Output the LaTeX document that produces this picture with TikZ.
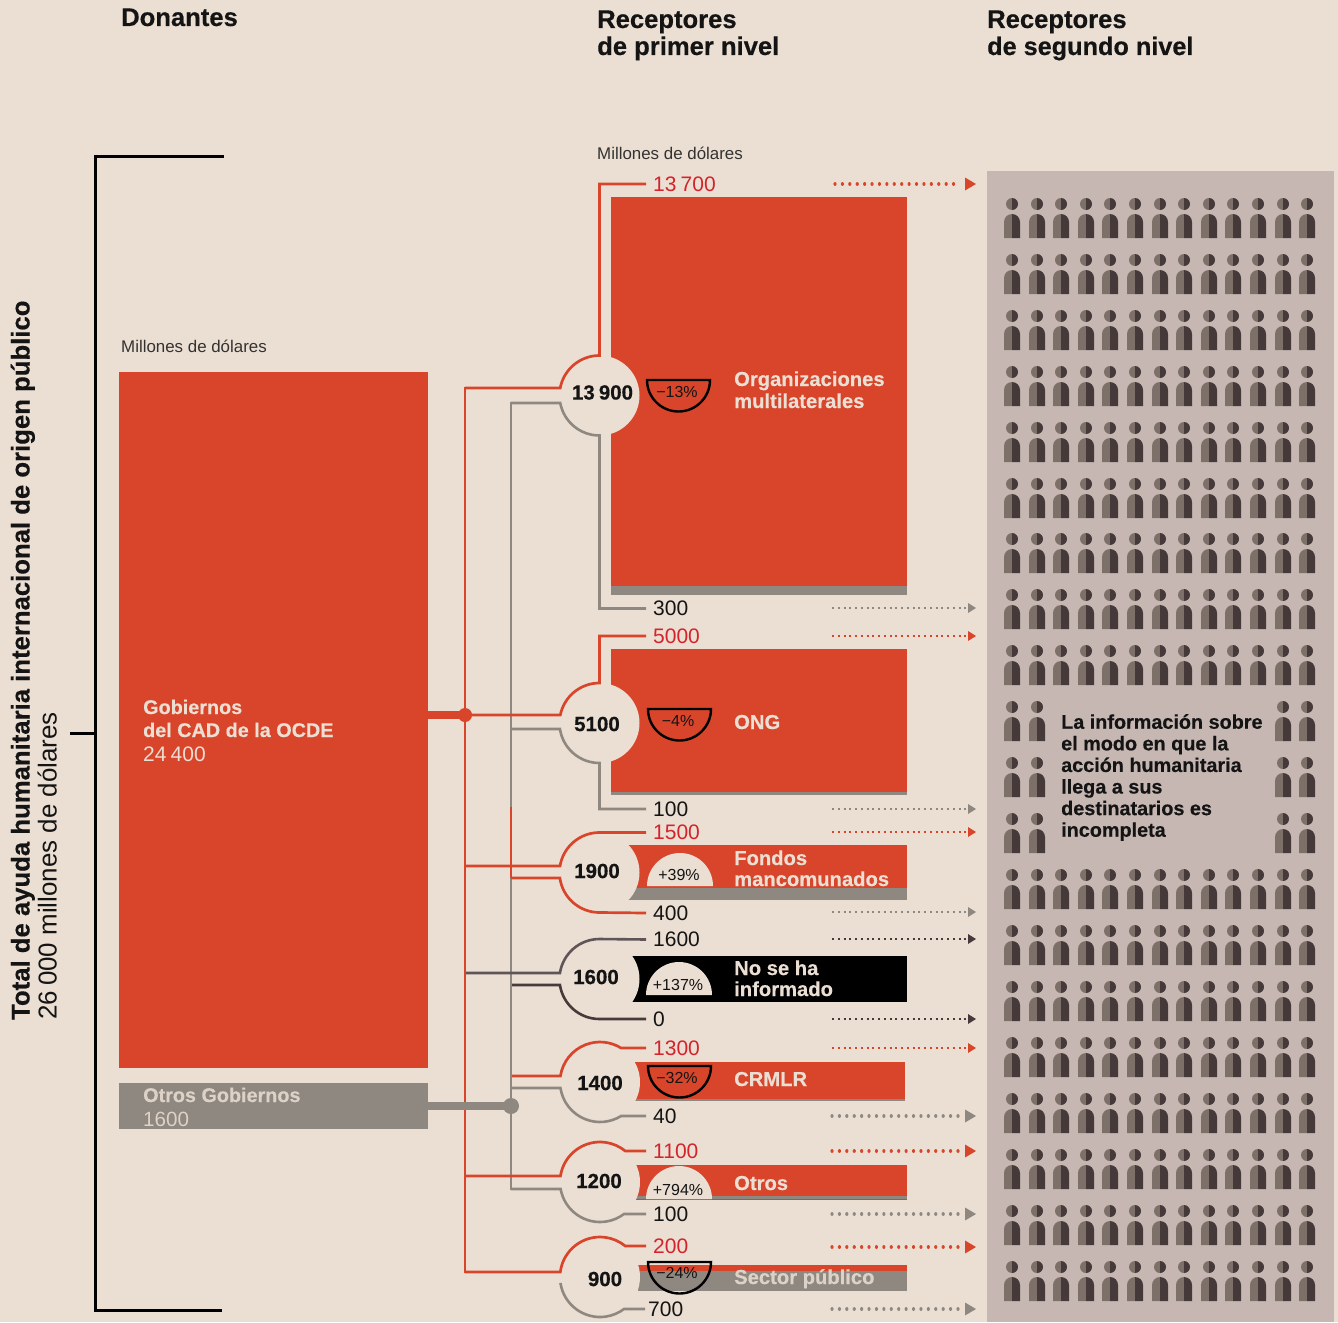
\documentclass[tikz,border=0pt]{standalone}
\usepackage{fontspec}
\setmainfont{Liberation Sans}[BoldFeatures={FakeBold=0.4}]
\usetikzlibrary{calc}
\definecolor{bg}{HTML}{EBDFD3}
\definecolor{panel}{HTML}{C6B7B2}
\definecolor{rojo}{HTML}{D8452B}
\definecolor{gris}{HTML}{8F8880}
\definecolor{rojotxt}{HTML}{D4232B}
\definecolor{tinta}{HTML}{141414}
\definecolor{osc}{HTML}{463A3A}
\definecolor{osctop}{HTML}{5F5457}
\definecolor{perL}{HTML}{7D7069}
\definecolor{perR}{HTML}{453A39}
\newcommand{\fs}[1]{\fontsize{#1}{#1}\selectfont}
\tikzset{
  x=1pt,y=-1pt,
  txtb/.style={inner sep=0pt,anchor=base west,text=tinta},
  headtxt/.style={txtb,font=\fs{25.6}\bfseries,align=left},
  unittxt/.style={txtb,font=\fs{16.9},text=tinta!85!bg},
  valn/.style={anchor=west,inner ysep=0pt,inner xsep=7pt,text height=14pt,text depth=0pt,font=\fs{21},text=tinta},
  valr/.style={valn,text=rojotxt},
  hubc/.style={circle,minimum size=80pt,inner sep=0pt,fill=bg},
  hubtxt/.style={inner sep=0pt,font=\fs{20.5}\bfseries,text=tinta},
  etiq/.style={txtb,font=\fs{20.2}\bfseries,text=bg},
  pcttxt/.style={inner sep=0pt,font=\fs{16},text=tinta},
  lr/.style={draw=rojo,line width=2.7pt},
  lg/.style={draw=gris,line width=2.6pt},
  ltop/.style={draw=osctop,line width=2.6pt},
  lbot/.style={draw=osc,line width=2.6pt},
  badgeb/.style={draw=black,line width=2.4pt},
  dotr/.style={draw=rojo,line width=2pt,dash pattern=on 2pt off 3.75pt},
  dotg/.style={draw=gris,line width=2pt,dash pattern=on 2pt off 3.75pt},
  dotk/.style={draw=osc,line width=2pt,dash pattern=on 2pt off 3.75pt},
  wider/.style={line width=3.2pt,line cap=round,dash pattern=on 0.01pt off 7.4pt},
}
% #1 style, #2 start, #3 hub, #4 start angle, #5 end angle, #6 path op, #7 label
\newcommand{\conn}[7]{\draw[#1] (#2) -- ($(#3)+(#4:40)$) arc (#4:#5:40) #6 (#7.west);}
% small tip: #1 dot style, #2 colour, #3 y
\newcommand{\flecha}[3]{\draw[#1] (832,#3) -- (967,#3);\fill[#2] (968,#3-5) -- (976,#3) -- (968,#3+5) -- cycle;}
% large tip: #1 colour, #2 y, #3 start x
\newcommand{\flechag}[3]{\draw[draw=#1,wider] (#3,#2) -- (958,#2);\fill[#1] (965,#2-6.5) -- (976,#2) -- (965,#2+6.5) -- cycle;}
\newcommand{\persona}[2]{%
  \fill[perL] (#1,#2-6) arc (270:90:6) -- cycle;
  \fill[perR] (#1,#2-6) arc (270:450:6) -- cycle;
  \fill[perL] (#1-8,#2+34) -- (#1-8,#2+18) arc (180:270:8) -- (#1,#2+34) -- cycle;
  \fill[perR] (#1,#2+34) -- (#1,#2+10) arc (270:360:8) -- (#1+8,#2+34) -- cycle;}
\begin{document}
\begin{tikzpicture}
\useasboundingbox (0,0) rectangle (1338,1322);
\fill[bg] (0,0) rectangle (1338,1322);
% panel and people
\fill[panel] (987,171) rectangle (1334,1322);
\foreach \y in {204,260,316,372,428,484,539,595,651,875,931,987,1043,1099,1155,1211,1267}
  \foreach \x in {1012,1037,1061,1086,1110,1135,1160,1184,1209,1233,1258,1283,1307}
    {\persona{\x}{\y}}
\foreach \y in {707,763,819}
  \foreach \x in {1012,1037,1283,1307}
    {\persona{\x}{\y}}
\node[inner sep=0pt,anchor=north west,align=left,text=tinta,font=\fontsize{19.8}{21.6}\selectfont\bfseries] (nota) at (1061,714)
  {La información sobre\\el modo en que la\\acción humanitaria\\llega a sus\\destinatarios es\\incompleta};
% headings
\node[headtxt] (hA) at (121,26) {Donantes};
\node[headtxt] (hB) at (597,28) {Receptores};
\node[headtxt] (hB2) at (597,55) {de primer nivel};
\node[headtxt] (hC) at (987,28) {Receptores};
\node[headtxt,font=\fs{25.25}\bfseries] (hC2) at (987,55) {de segundo nivel};
\node[unittxt] (uA) at (121,352) {Millones de dólares};
\node[unittxt] (uB) at (597,159) {Millones de dólares};
% bracket
\draw[black,line width=3pt] (224,156) -- (95,156) -- (95,1310) -- (222,1310);
\draw[black,line width=3pt] (70,733) -- (95,733);
\node[inner sep=0pt,rotate=90,anchor=base west,font=\fs{25.7}\bfseries,text=tinta] (tot) at (29.5,1020) {Total de ayuda humanitaria internacional de origen público};
\node[inner sep=0pt,rotate=90,anchor=base west,font=\fs{25.9},text=tinta] (tot2) at (56.5,1020) {26\hspace{0.2em}000 millones de dólares};
% donors
\fill[rojo] (119,372) rectangle (428,1068);
\fill[gris] (119,1083) rectangle (428,1129);
% recipient blocks
\fill[rojo] (611,197) rectangle (907,586);
\fill[gris] (611,586) rectangle (907,595);
\fill[rojo] (611,649) rectangle (907,792);
\fill[gris] (611,792) rectangle (907,795);
\fill[rojo] (620,845) rectangle (907,888);
\fill[gris] (620,888) rectangle (907,900);
\fill[black] (620,956) rectangle (907,1002);
\fill[rojo] (620,1062) rectangle (905,1099);
\fill[gris] (620,1099) rectangle (905,1101);
\fill[rojo] (620,1165) rectangle (907,1196);
\fill[gris] (620,1196) rectangle (907,1199);
\fill[rojo] (620,1199) rectangle (907,1200);
\fill[rojo] (638,1265) rectangle (907,1271);
\fill[gris] (638,1271) rectangle (907,1291);
% hubs
\node[hubc] (cA) at (599.5,395.5) {};
\node[hubc] (cB) at (599.5,723) {};
\node[hubc] (cC) at (599.5,872.5) {};
\node[hubc] (cD) at (599.5,979) {};
\node[hubc] (cE) at (600,1082) {};
\node[hubc] (cF) at (600,1182) {};
\node[hubc] (cG) at (600,1277) {};
\node[hubtxt] (tA) at (602.5,392.5) {13\hspace{0.2em}900};
\node[hubtxt] (tB) at (597,724) {5100};
\node[hubtxt] (tC) at (597,871) {1900};
\node[hubtxt] (tD) at (596,977) {1600};
\node[hubtxt] (tE) at (600,1083) {1400};
\node[hubtxt] (tF) at (599,1181) {1200};
\node[hubtxt] (tG) at (605,1279) {900};
% value labels
\node[valr] (vA) at (646,184) {13\hspace{0.2em}700};
\node[valn]  (wA) at (646,608.5) {300};
\node[valr] (vB) at (646,636) {5000};
\node[valn]  (wB) at (646,809) {100};
\node[valr] (vC) at (646,832.5) {1500};
\node[valn]  (wC) at (646,913) {400};
\node[valn]  (vD) at (646,939.5) {1600};
\node[valn]  (wD) at (646,1019) {0};
\node[valr] (vE) at (646,1048) {1300};
\node[valn]  (wE) at (646,1116) {40};
\node[valr] (vF) at (646,1151) {1100};
\node[valn]  (wF) at (646,1214) {100};
\node[valr] (vG) at (646,1246) {200};
\node[valn,inner xsep=3pt]  (wG) at (645,1309) {700};
% bus coordinates
\coordinate (rA) at (465,388);
\coordinate (rB) at (465,715);
\coordinate (rC) at (465,866);
\coordinate (rD) at (466,973);
\coordinate (rF) at (465,1176);
\coordinate (rG) at (465,1272);
\coordinate (gA) at (511,403);
\coordinate (gB) at (511,729);
\coordinate (rS) at (511,807);
\coordinate (rC2) at (511,878);
\coordinate (dD) at (512,985);
\coordinate (rE) at (512,1076);
\coordinate (gE) at (511,1088);
\coordinate (gF) at (511,1189);
\coordinate (dR) at (465,715);
\coordinate (dG) at (511,1106);
\coordinate (oR) at (428,715);
\coordinate (oG) at (428,1106);
\coordinate (gGs) at ($(cG)+(171.4:40)$);
% buses
\draw[lg,line cap=rect] (gA) -- (gF);
\draw[lr] (rS) -- (rC2);
\draw[lr,line cap=rect] (rA) -- (rG);
\draw[rojo,line width=8pt] (oR) -- (dR);
\fill[rojo] (dR) circle (7);
\draw[gris,line width=8pt] (oG) -- (dG);
\fill[gris] (dG) circle (8);
% connectors
\conn{lr}{rA}{cA}{190.8}{270}{|-}{vA}
\conn{lg}{gA}{cA}{169.2}{90}{|-}{wA}
\conn{lr}{rB}{cB}{191.5}{270}{|-}{vB}
\conn{lg}{gB}{cB}{171.4}{90}{|-}{wB}
\conn{lr}{rC}{cC}{189.4}{270}{--}{vC}
\conn{lr}{rC2}{cC}{172.1}{90}{--}{wC}
\conn{ltop}{rD}{cD}{188.6}{270}{--}{vD}
\conn{lbot}{dD}{cD}{171.4}{90}{--}{wD}
\conn{lr}{rE}{cE}{188.6}{301.8}{--}{vE}
\conn{lg}{gE}{cE}{171.4}{58.2}{--}{wE}
\conn{lr}{rF}{cF}{188.6}{309.2}{--}{vF}
\conn{lg}{gF}{cF}{170}{53.1}{--}{wF}
\conn{lr}{rG}{cG}{187.2}{309.2}{--}{vG}
\conn{lg}{gGs}{cG}{171.4}{53.1}{--}{wG}
% dotted arrows
\flechag{rojo}{184}{835}
\flecha{dotg}{gris}{608}
\flecha{dotr}{rojo}{636}
\flecha{dotg}{gris}{809}
\flecha{dotr}{rojo}{832}
\flecha{dotg}{gris}{912}
\flecha{dotk}{osc}{939}
\flecha{dotk}{osc}{1019}
\flecha{dotr}{rojo}{1048}
\flechag{gris}{1116}{832}
\flechag{rojo}{1151}{832}
\flechag{gris}{1214}{832}
\flechag{rojo}{1247}{832}
\flechag{gris}{1309}{832}
% badges
\draw[badgeb] (647,380) arc (180:0:31.5) -- cycle;
\draw[badgeb] (648,709) arc (180:0:31.5) -- cycle;
\fill[bg] (647,886) arc (180:360:33) -- cycle;
\fill[bg] (646,995) arc (180:360:33) -- cycle;
\draw[badgeb] (648,1066) arc (180:0:31.5) -- cycle;
\fill[bg] (646,1199) arc (180:360:33) -- cycle;
\draw[badgeb] (648,1262) arc (180:0:31.5) -- cycle;
\node[pcttxt] (pA) at (677,392) {−13\%};
\node[pcttxt] (pB) at (678,721) {−4\%};
\node[pcttxt] (pC) at (679,875) {+39\%};
\node[pcttxt] (pD) at (678,985) {+137\%};
\node[pcttxt] (pE) at (677,1078) {−32\%};
\node[pcttxt] (pF) at (678,1190) {+794\%};
\node[pcttxt] (pG) at (677,1273) {−24\%};
% names
\node[etiq] (nA) at (734,386) {Organizaciones};
\node[etiq] (nA2) at (734,408) {multilaterales};
\node[etiq] (nB) at (734,729) {ONG};
\node[etiq] (nC) at (734,865) {Fondos};
\node[etiq] (nC2) at (734,886) {mancomunados};
\node[etiq] (nD) at (734,975) {No se ha};
\node[etiq] (nD2) at (734,996) {informado};
\node[etiq] (nE) at (734,1086) {CRMLR};
\node[etiq] (nF) at (734,1190) {Otros};
\node[etiq,text=bg!85!gris] (nG) at (734,1284) {Sector público};
\node[etiq,font=\fs{19.8}\bfseries] (dA) at (143,714) {Gobiernos};
\node[etiq,font=\fs{19.8}\bfseries] (dA2) at (143,737) {del CAD de la OCDE};
\node[etiq,font=\fs{21}] (dA3) at (143,761) {24\hspace{0.2em}400};
\node[etiq,font=\fs{19.8}\bfseries,text=bg!85!gris] (dB) at (143,1102) {Otros Gobiernos};
\node[etiq,font=\fs{20.6},text=bg!85!gris] (dB2) at (143,1126) {1600};
\end{tikzpicture}
\end{document}
